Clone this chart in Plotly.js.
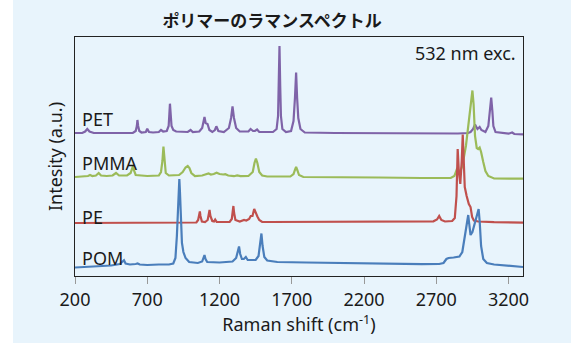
<!DOCTYPE html>
<html><head><meta charset="utf-8">
<script src="https://cdn.plot.ly/plotly-3.0.1.min.js"></script>
<style>html,body{margin:0;padding:0;background:#fff;}#chart{position:absolute;left:13px;top:0;width:558px;height:343px;}</style>
</head><body><div id="chart"></div><script>
// Spectra: [Raman shift (cm-1), intensity (a.u., stacked)]
const pet = [[200,143],[250,143],[270,144.5],[285,147],[300,144.5],[330,143],[600,143],[620,145],[628,150],[632,156],[637,150],[645,145],[660,143.5],[690,144],[700,147.3],[712,144],[740,143.5],[780,144],[795,146],[810,144.5],[835,145],[848,150],[853,162],[857,172.3],[862,162],[868,150],[880,146],[900,144.5],[980,144],[1000,146],[1015,144],[1060,144.5],[1080,148],[1090,155],[1096,159],[1104,153],[1117,152],[1130,146],[1150,144],[1168,146],[1178,149.7],[1192,145],[1230,144],[1265,148],[1280,158],[1290,169.5],[1300,158],[1315,148],[1340,144.5],[1400,144.5],[1415,147],[1432,145],[1445,145],[1460,146.5],[1475,144],[1570,144],[1595,147],[1605,160],[1610,190],[1615,230],[1620,190],[1625,160],[1635,147],[1660,144],[1695,145],[1712,155],[1722,178],[1730,203.5],[1737,178],[1745,158],[1760,147],[1790,143.5],[2000,143],[2200,142.8],[2500,142.8],[2850,142.5],[2920,143],[2937,144],[2955,147],[2968,151.5],[2985,147],[3000,149],[3012,146],[3040,144],[3060,150],[3070,165],[3080,178.3],[3088,165],[3095,150],[3110,144],[3200,142.3],[3225,143.5],[3240,142],[3300,141.7]];
const pmma = [[200,99],[260,99.5],[290,100],[304,101],[320,100],[345,100.5],[364,103],[380,100.5],[420,100],[460,100.5],[484,103],[505,100.5],[560,100.5],[585,103],[596,108],[601,110],[607,106],[620,101],[700,100],[780,100.5],[795,104],[805,115],[812,129.5],[818,115],[828,103],[850,100.5],[920,101],[945,104],[965,108.5],[980,110],[992,108],[1005,103],[1030,100],[1080,100.5],[1110,101.5],[1124,102.5],[1140,101.5],[1160,102],[1180,103.3],[1200,102],[1225,101.5],[1240,101.8],[1260,100.5],[1300,99.8],[1322,100.5],[1345,99.8],[1400,100],[1430,104],[1442,113],[1452,117.5],[1462,113],[1475,104],[1495,100.5],[1530,99.5],[1690,99.5],[1712,102],[1722,106],[1730,109],[1738,106],[1750,101],[1780,99],[2000,98.5],[2300,98.5],[2600,98],[2800,98],[2825,100],[2845,108],[2862,103],[2880,110],[2905,130],[2925,155],[2940,172],[2950,185.5],[2958,172],[2968,140],[2980,128],[2990,127],[3000,128.5],[3010,124],[3025,114],[3040,105],[3060,100],[3100,97.5],[3300,97.3]];
const pe = [[200,53],[900,53.3],[1040,53.5],[1052,56],[1060,62],[1064,64.5],[1068,60],[1078,54.5],[1100,54],[1118,56],[1126,62],[1131,66],[1137,60],[1150,55],[1162,54.5],[1170,56.5],[1180,54.2],[1270,54],[1285,57],[1292,64],[1296,70],[1301,63],[1310,56],[1340,54.5],[1360,55],[1370,56],[1385,55.5],[1405,57],[1416,60],[1428,60],[1440,67],[1452,62],[1462,59.5],[1475,56],[1495,54],[1550,54],[2000,54.5],[2500,54.5],[2680,54.7],[2705,56.5],[2720,60],[2735,56],[2760,54.5],[2810,55],[2828,58],[2840,80],[2848,127],[2856,105],[2866,92],[2876,115],[2883,141.5],[2890,115],[2897,89],[2910,80],[2925,72],[2937,69],[2948,59],[2960,55.5],[2990,54.5],[3100,53.8],[3300,53.3]];
const pom = [[200,8.5],[350,9.5],[450,10.5],[510,12],[528,14],[539,15.7],[550,12.5],[580,11.5],[620,12],[633,12.5],[648,11.5],[700,11],[780,11.5],[850,11.5],[880,12.5],[895,18],[905,40],[912,65],[918,88],[922,97],[926,85],[932,55],[940,33],[950,24],[965,18],[990,14],[1050,13],[1080,14.5],[1090,18],[1096,21],[1103,17],[1115,14],[1200,13.5],[1290,14.5],[1315,18],[1328,24],[1335,29.5],[1343,22],[1355,17],[1368,17],[1382,19],[1395,16],[1450,16],[1470,20],[1482,32],[1490,42.5],[1498,30],[1510,19],[1530,15.5],[1600,14],[1800,13.5],[2000,13],[2200,12.8],[2400,12.3],[2600,11.8],[2720,12],[2750,13],[2770,17],[2785,18],[2820,18.5],[2860,19.5],[2880,24],[2900,40],[2915,56],[2921,61],[2928,52],[2937,41],[2950,44],[2970,55],[2985,64],[2993,67],[3000,55],[3010,30],[3025,17],[3050,13],[3100,11.5],[3200,10],[3300,9]];

const seriesNames = ['PET','PMMA','PE','POM'];
const seriesData = [pet, pmma, pe, pom];
const seriesColors = ['#7f63a8','#9bbb59','#c0504d','#4a7ebb'];
const xTicks = [200,700,1200,1700,2200,2700,3200];
const chartTitle = 'ポリマーのラマンスペクトル';
const xTitle = 'Raman shift (cm<sup>-1</sup>)';
const yTitle = 'Intesity (a.u.)';
const noteText = '532 nm exc.';

const FONT = 'Noto Sans, Noto Sans CJK JP, sans-serif';
const BG = '#e8f4fc';

const traces = seriesData.map((d,i)=>({
  x: d.map(p=>p[0]), y: d.map(p=>p[1]), type:'scatter', mode:'lines', name: seriesNames[i],
  line:{color: seriesColors[i], width:2.2}, hoverinfo:'skip'
}));

const labelY = [0.655, 0.4715, 0.248, 0.074];
const annotations = seriesNames.map((n,i)=>({
  text:n, xref:'paper', yref:'paper', x:0.012, y:labelY[i], xanchor:'left', yanchor:'middle',
  showarrow:false, font:{family:FONT, size:18, color:'#1a1a1a'}
}));
annotations.push({text:noteText, xref:'paper', yref:'paper', x:0.988, y:0.931, xanchor:'right', yanchor:'middle',
  showarrow:false, font:{family:FONT, size:18, color:'#1a1a1a'}});

const layout = {
  width:558, height:343,
  paper_bgcolor:BG, plot_bgcolor:BG,
  margin:{l:62, r:48, t:37, b:67},
  showlegend:false,
  font:{family:FONT, size:18, color:'#1a1a1a'},
  title:{text:'<b>'+chartTitle+'</b>', x:0.44, xref:'paper', xanchor:'center', y:0.94, yref:'container', yanchor:'middle',
    font:{family:'Noto Sans CJK JP, sans-serif', size:17, color:'#1a1a1a'}},
  xaxis:{range:[200,3300], tickvals:xTicks, ticktext:xTicks.map(String), ticks:'outside', ticklen:7, tickwidth:1, tickcolor:'#999',
    showline:true, linecolor:'#222', linewidth:1, mirror:true, showgrid:false, zeroline:false,
    tickfont:{family:FONT, size:18, color:'#1a1a1a'},
    title:{text:xTitle, font:{family:FONT, size:18, color:'#1a1a1a'}, standoff:3}},
  yaxis:{range:[0,239], showticklabels:false, ticks:'', showline:true, linecolor:'#222', linewidth:1, mirror:true,
    showgrid:false, zeroline:false,
    title:{text:yTitle, font:{family:FONT, size:18, color:'#1a1a1a'}, standoff:6}},
  annotations:annotations
};

Plotly.newPlot('chart', traces, layout, {displayModeBar:false, staticPlot:true});
</script></body></html>
